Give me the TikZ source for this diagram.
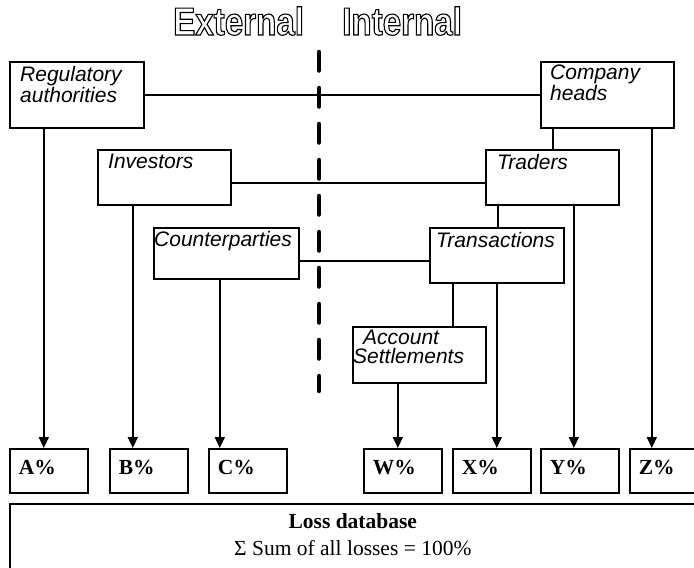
\documentclass[tikz,border=0pt]{standalone}
\usepackage{fontspec}
\setmainfont{Liberation Serif}
\setsansfont{Liberation Sans}
\newfontfamily\titlefont[FakeStretch=0.85]{Liberation Sans Bold}
\usetikzlibrary{positioning,arrows.meta}
\newcommand\outlined[1]{\special{pdf:literal direct 1 Tr 1.1 w}#1\special{pdf:literal direct 0 Tr 0.4 w}}

\begin{document}
\begin{tikzpicture}[x=1pt,y=-1pt,
  ent/.style={draw,line width=1.6pt,inner sep=0pt,anchor=north west},
  enttext/.style={anchor=north west,inner sep=0pt,align=left,font=\fontsize{21}{21}\selectfont\sffamily\itshape},
  share/.style={draw,line width=1.6pt,anchor=north west,minimum width=78pt,minimum height=44pt,inner xsep=9pt,inner ysep=0pt,text width=60pt,align=left,text height=15pt,text depth=7pt,font=\fontsize{21.5}{21.5}\selectfont\bfseries},
  link/.style={line width=1.5pt},
  flow/.style={line width=1.5pt,-{Triangle[length=11pt,width=10pt]}},
  divider/.style={line width=4.5pt,line cap=round,dash pattern=on 18.5pt off 17.5pt},
  title/.style={anchor=base west,inner sep=0pt,font=\titlefont\fontsize{39}{39}\selectfont}]
\useasboundingbox (0,0) rectangle (694,568);
\clip (0,0) rectangle (694,568);
% ---- sources of loss ----
\node[ent,minimum width=134pt,minimum height=66pt] (reg) at (9,61) {};
\node[ent,minimum width=133pt,minimum height=66pt] (comp) at (540,61) {};
\node[ent,minimum width=133pt,minimum height=55pt] (inv) at (97,149) {};
\node[ent,minimum width=133pt,minimum height=55pt] (trad) at (485,149) {};
\node[ent,minimum width=145pt,minimum height=51pt] (cpty) at (153,227) {};
\node[ent,minimum width=134pt,minimum height=55pt] (trans) at (429,227) {};
\node[ent,minimum width=133pt,minimum height=56pt] (acct) at (352,326) {};
\node[enttext] (regText) at ([shift={(11,5)}]reg.north west) {Regulatory\\authorities};
\node[enttext] (compText) at ([shift={(10,4)}]comp.north west) {Company\\heads};
\node[enttext] (invText) at ([shift={(11,5)}]inv.north west) {Investors};
\node[enttext] (tradText) at ([shift={(12,5)}]trad.north west) {Traders};
\node[enttext] (cptyText) at ([shift={(1,4)}]cpty.north west) {Counterparties};
\node[enttext] (transText) at ([shift={(7,5)}]trans.north west) {Transactions};
\node[enttext,font=\fontsize{21}{19}\selectfont\sffamily\itshape] (acctText) at ([shift={(1,4)}]acct.north west) {\hspace*{10pt}Account\\Settlements};
% ---- shares of the loss database ----
\node[share] (a) at (9,448) {A\%};
\node[share] (b) at (109,448) {B\%};
\node[share] (c) at (208,448) {C\%};
\node[share] (w) at (363,448) {W\%};
\node[share] (x) at (452,448) {X\%};
\node[share] (y) at (540,448) {Y\%};
\node[share] (z) at (629,448) {Z\%};
\node[ent,minimum width=686pt,minimum height=90pt] (loss) at (9,503) {};
\node[anchor=north,inner sep=0pt,align=center,font=\fontsize{21.5}{27}\selectfont] (lossText) at ([yshift=-10pt]loss.north) {\textbf{Loss database}\\Σ Sum of all losses = 100\%};
% ---- links between the sources ----
\draw[link] (reg) -- (comp);
\draw[link] ([yshift=-5.5pt]inv.east) -- ([yshift=-5.5pt]inv.east -| trad.west);
\draw[link] ([yshift=-7.5pt]cpty.east) -- ([yshift=-7.5pt]cpty.east -| trans.west);
\draw[link] ([xshift=-54.5pt]comp.south) -- ([xshift=-54.5pt]comp.south |- trad.north);
\draw[link] ([xshift=-54.5pt]trad.south) -- ([xshift=-54.5pt]trad.south |- trans.north);
\draw[link] ([xshift=-44pt]trans.south) -- ([xshift=-44pt]trans.south |- acct.north);
% ---- arrows down to the shares ----
\draw[flow] ([xshift=-33pt]reg.south) -- ([xshift=-33pt]reg.south |- a.north);
\draw[flow] ([xshift=-31.5pt]inv.south) -- ([xshift=-31.5pt]inv.south |- b.north);
\draw[flow] ([xshift=-6.5pt]cpty.south) -- ([xshift=-6.5pt]cpty.south |- c.north);
\draw[flow] ([xshift=-21.5pt]acct.south) -- ([xshift=-21.5pt]acct.south |- w.north);
\draw[flow] (trans.south) -- (trans.south |- x.north);
\draw[flow] ([xshift=21.5pt]trad.south) -- ([xshift=21.5pt]trad.south |- y.north);
\draw[flow] ([xshift=44.5pt]comp.south) -- ([xshift=44.5pt]comp.south |- z.north);
% ---- external / internal split ----
\coordinate (splitTop) at (319,52);
\coordinate (splitBot) at (319,391);
\draw[divider] (splitTop) -- (splitBot);
\node[title] (ext) at (173,35) {\outlined{External}};
\node[title] (int) at (342,35) {\outlined{Internal}};
\end{tikzpicture}
\end{document}
